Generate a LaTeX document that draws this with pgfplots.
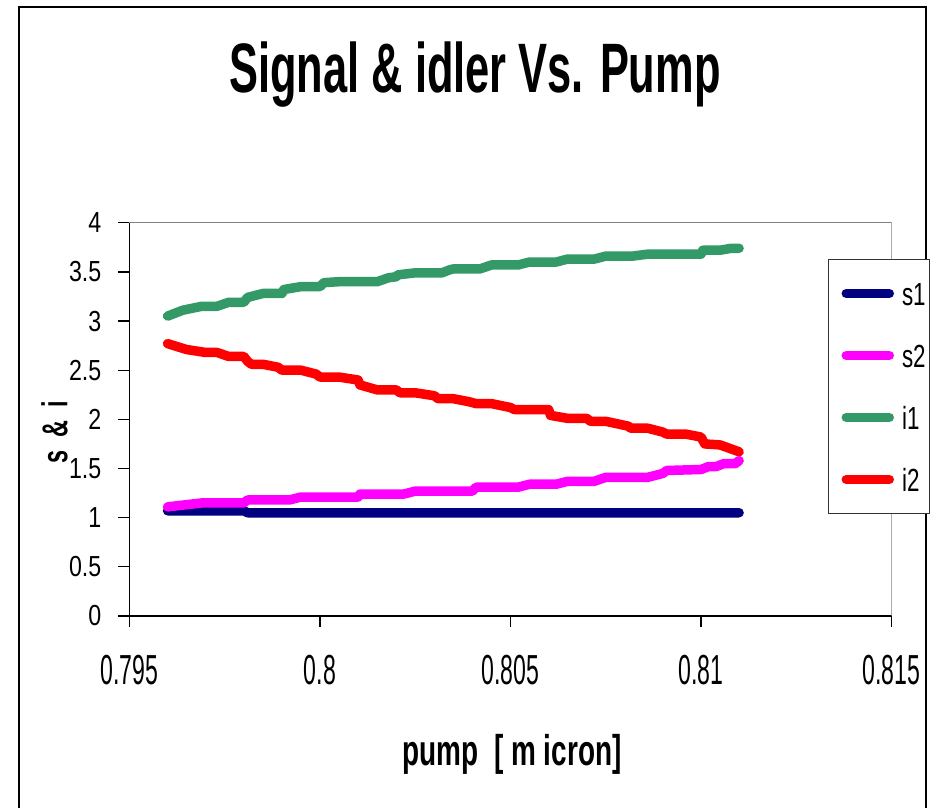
\documentclass[border=0pt]{standalone}
\usepackage{fontspec}
\setmainfont{Liberation Sans}
\newfontfamily\titlefont[FakeStretch=0.62]{Liberation Sans}
\newfontfamily\xtfont[FakeStretch=0.55]{Liberation Sans}
\newfontfamily\ytfont[FakeStretch=0.8]{Liberation Sans}
\newfontfamily\legfont[FakeStretch=0.7]{Liberation Sans}
\newfontfamily\labfont[FakeStretch=0.65]{Liberation Sans}
\usepackage{pgfplots}
\pgfplotsset{compat=1.18}
\definecolor{sone}{RGB}{0,0,128}
\definecolor{stwo}{RGB}{255,0,255}
\definecolor{ione}{RGB}{51,153,102}
\definecolor{itwo}{RGB}{255,0,0}
\newcommand{\legtxt}[1]{\makebox[14pt][l]{#1}}
\begin{document}
\begin{tikzpicture}[x=1pt,y=1pt]
\useasboundingbox (0,0) rectangle (938,808);
\draw[line width=2pt] (19,-20) -- (19,801) -- (926,801) -- (926,-20);
\begin{axis}[
 scale only axis, width=762pt, height=393.3pt,
 at={(129.5pt,192pt)}, anchor=south west,
 xmin=0.795, xmax=0.815, ymin=0, ymax=4,
 scaled x ticks=false,
 xtick={0.795,0.8,0.805,0.81,0.815},
 xticklabels={0.795,0.8,0.805,0.81,0.815},
 ytick={0,0.5,1,1.5,2,2.5,3,3.5,4},
 yticklabels={0,0.5,1,1.5,2,2.5,3,3.5,4},
 axis x line*=bottom, axis y line*=left,
 xtick pos=bottom, ytick pos=left,
 axis line style={line width=1.5pt, black, -},
 tick align=outside, major tick length=11pt,
 every tick/.style={black, line width=1.3pt},
 xticklabel style={font=\xtfont\fontsize{42}{42}\selectfont, anchor=north, inner sep=0pt, text height=30pt, text depth=0pt, yshift=-27pt},
 yticklabel style={font=\ytfont\fontsize{29}{29}\selectfont, anchor=east, inner sep=0pt, xshift=-17pt},
 title={Signal \& idler Vs. Pump},
 title style={font=\titlefont\bfseries\fontsize{70}{70}\selectfont, at={(axis description cs:0.4534,1.317)}, anchor=base, inner sep=0pt},
 xlabel={pump~ [ m icron]},
 xlabel style={font=\labfont\bfseries\fontsize{43}{43}\selectfont, at={(axis description cs:0.502,-0.379)}, anchor=base, inner sep=0pt},
 ylabel={s \ \& \ i},
 ylabel style={font=\labfont\bfseries\fontsize{36}{36}\selectfont, at={(axis description cs:-0.0985,0.468)}, anchor=center, inner sep=0pt},
 legend cell align=left,
 legend image code/.code={\path (0pt,0pt) -- (43pt,0pt); \draw[#1, line cap=round] (4.75pt,0pt) -- (38.25pt,0pt);},
 legend style={at={(axis description cs:0.9167,0.9077)}, anchor=north west,
   draw=black!80, line width=1pt, fill=white, inner xsep=13pt, inner ysep=22pt,
   row sep=38pt, column sep=8pt,
   font=\legfont\fontsize{32}{32}\selectfont,
   nodes={inner sep=0pt, text height=24pt, text depth=0pt}},
]
\draw[gray, line width=1.5pt] (rel axis cs:0,1) -- (rel axis cs:1,1) -- (rel axis cs:1,0);
\addplot[sone, line width=9.5pt, line cap=round, line join=round] coordinates {
(0.7960,1.07) (0.7980,1.07) (0.7981,1.05) (0.8110,1.05)};
\addplot[stwo, line width=9.5pt, line cap=round, line join=round] coordinates {
(0.7960,1.11) (0.7969,1.15) (0.7980,1.15) (0.7981,1.18) (0.7992,1.18) (0.7995,1.21)
(0.8010,1.21) (0.80105,1.24) (0.8022,1.24) (0.8025,1.27) (0.8040,1.27) (0.8041,1.31)
(0.8052,1.31) (0.8055,1.34) (0.8062,1.34) (0.8065,1.37) (0.8072,1.37) (0.8075,1.41)
(0.8086,1.41) (0.8090,1.45) (0.8091,1.48) (0.8100,1.49) (0.8102,1.52) (0.8104,1.52)
(0.8106,1.55) (0.8109,1.55) (0.8110,1.58)};
\addplot[ione, line width=9.5pt, line cap=round, line join=round] coordinates {
(0.7960,3.05) (0.7964,3.11) (0.7969,3.15) (0.7973,3.15) (0.7976,3.19) (0.7980,3.19)
(0.7981,3.24) (0.7985,3.28) (0.7990,3.28) (0.79905,3.32) (0.7995,3.35) (0.8000,3.35)
(0.8001,3.39) (0.8005,3.40) (0.8015,3.40) (0.8018,3.44) (0.8020,3.45) (0.80205,3.47)
(0.8025,3.49) (0.8032,3.49) (0.8034,3.52) (0.8035,3.53) (0.8042,3.53) (0.8045,3.57)
(0.8052,3.57) (0.8055,3.60) (0.8062,3.60) (0.8065,3.63) (0.8072,3.63) (0.8075,3.66)
(0.8082,3.66) (0.8086,3.68) (0.8100,3.68) (0.81005,3.72) (0.8105,3.72) (0.8108,3.74)
(0.8110,3.74)};
\addplot[itwo, line width=9.5pt, line cap=round, line join=round] coordinates {
(0.7960,2.77) (0.7965,2.71) (0.7970,2.68) (0.7973,2.68) (0.7976,2.64) (0.7980,2.64)
(0.7981,2.59) (0.7982,2.56) (0.7985,2.56) (0.7989,2.53) (0.7990,2.50) (0.7995,2.50)
(0.7999,2.46) (0.8000,2.43) (0.8005,2.43) (0.8010,2.40) (0.80105,2.35) (0.8015,2.30)
(0.8020,2.30) (0.8021,2.27) (0.8025,2.27) (0.8030,2.24) (0.8031,2.21) (0.8035,2.21)
(0.8039,2.18) (0.8041,2.16) (0.8045,2.16) (0.8050,2.12) (0.8051,2.10) (0.8060,2.10)
(0.80605,2.04) (0.8065,2.01) (0.8070,2.01) (0.8071,1.98) (0.8075,1.98) (0.8081,1.93)
(0.80815,1.91) (0.8086,1.91) (0.8090,1.87) (0.8091,1.85) (0.8096,1.85) (0.8100,1.82)
(0.8101,1.75) (0.8105,1.74) (0.8110,1.67)};
\legend{\legtxt{s1},\legtxt{s2},\legtxt{i1},\legtxt{i2}}
\end{axis}
\end{tikzpicture}
\end{document}
